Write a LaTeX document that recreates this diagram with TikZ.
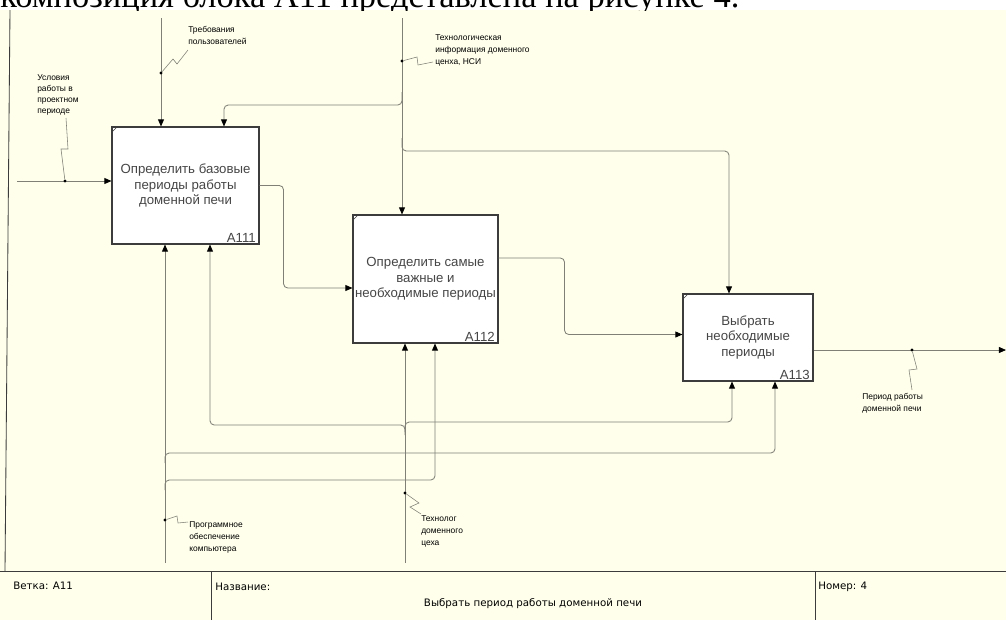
\documentclass[tikz,border=0pt]{standalone}
\usepackage{fontspec}
\setmainfont{Liberation Sans}
\newfontfamily\serifrm{Liberation Serif}
\newfontfamily\tahoma{DejaVu Sans}
\usepackage{tikz}
\usetikzlibrary{arrows.meta, positioning, calc}
\definecolor{paper}{RGB}{255,255,236}
\definecolor{linegray}{RGB}{128,128,118}
\definecolor{boxline}{RGB}{60,60,60}
\definecolor{boxtext}{RGB}{70,70,70}

\begin{document}
\begin{tikzpicture}[
  x=0.025cm, y=-0.025cm,
  func/.style={rectangle, draw=boxline, fill=white, line width=0.75pt,
               inner sep=0pt, align=center, text=boxtext,
               font=\fontsize{9.4}{11}\selectfont},
  num/.style={anchor=south east, inner xsep=2.5pt, inner ysep=1pt, text=boxtext,
              font=\fontsize{9.4}{9.4}\selectfont},
  lbl/.style={anchor=north west, inner sep=0pt, align=left,
              font=\fontsize{6}{8.8}\selectfont},
  arr/.style={draw=linegray, line width=0.6pt, rounded corners=3pt,
              -{Triangle[length=5pt, width=4.2pt, color=black]}},
  lead/.style={draw=linegray, line width=0.4pt},
  dot/.style={circle, fill=black, inner sep=0pt, minimum size=2.2pt},
  cell/.style={anchor=base west, inner sep=0pt, font=\tahoma\fontsize{7.3}{8}\selectfont}
]
\useasboundingbox (0,0) rectangle (1006,620);
\fill[white] (0,0) rectangle (1006,10);
\fill[paper] (0,10) rectangle (1006,620);
\begin{scope}
  \clip (0,0) rectangle (1006,10);
  \node[anchor=base west, inner sep=0pt, font=\serifrm\fontsize{24.5}{24.5}\selectfont] (cut) at (0,7)
    {композиция блока А11 представлена на рисунке 4.};
\end{scope}
\draw[boxline, line width=0.6pt] (10,10) -- (5,571);

% function boxes
\node[func, minimum width=3.675cm, minimum height=2.925cm] (a111) at (185.5,185.5)
  {Определить базовые\\периоды работы\\доменной печи};
\node[func, minimum width=3.625cm, minimum height=3.2cm] (a112) at (425.5,279)
  {Определить самые\\важные и\\необходимые периоды};
\node[func, minimum width=3.25cm, minimum height=2.175cm] (a113) at (748,337.5)
  {Выбрать\\необходимые\\периоды};
\node[num] at (a111.south east) {A111};
\node[num] at (a112.south east) {A112};
\node[num] at (a113.south east) {A113};
\foreach \b in {a111,a112,a113}
  \draw[boxline, line width=0.4pt] ($(\b.north west)+(1,5)$) -- ($(\b.north west)+(5,1)$);

% input
\coordinate (inbeg) at (17,181);
\draw[arr] (inbeg) -- (inbeg -| a111.west);
% controls
\coordinate (c1top) at (161,18);
\draw[arr] (c1top) -- (c1top |- a111.north);
\coordinate (c2top) at (402,18);
\draw[arr] (c2top) -- (c2top |- a112.north);
\draw[arr] (402,92) -- (402,105) -- (224,105) -- (224,105 |- a111.north);
\draw[arr] (402,138) -- (402,151) -- (729,151) -- (729,151 |- a113.north);
% outputs
\draw[arr] (a111.east) -- ++(24,0) |- ($(a112.west)+(0,9)$);
\draw[arr] ($(a112.east)+(0,-21)$) -- ++(66,0) |- ($(a113.west)+(0,-3)$);
\coordinate (outend) at (1006,350);
\draw[arr] (outend -| a113.east) -- (outend);
% mechanisms
\coordinate (m1bot) at (165,563);
\draw[arr] (m1bot) -- (m1bot |- a111.south);
\draw[arr] (165,490) -- (165,480) -- (435,480) -- (435,480 |- a112.south);
\draw[arr] (165,463) -- (165,453) -- (775,453) -- (775,453 |- a113.south);
\coordinate (m2bot) at (405,563);
\draw[arr] (m2bot) -- (m2bot |- a112.south);
\draw[arr] (405,435) -- (405,425) -- (210,425) -- (210,425 |- a111.south);
\draw[arr] (405,432) -- (405,422) -- (732,422) -- (732,422 |- a113.south);

% arrow labels
\node[lbl, font=\fontsize{6}{8}\selectfont] (lusl) at (37,74) {Условия\\работы в\\проектном\\периоде};
\node[lbl] (ltreb) at (188,26) {Требования\\пользователей};
\node[lbl] (ltech) at (435,34) {Технологическая\\информация доменного\\ценха, НСИ};
\node[lbl] (lper) at (862,393) {Период работы\\доменной печи};
\node[lbl] (lprog) at (189,521) {Программное\\обеспечение\\компьютера};
\node[lbl] (ltexn) at (421,515) {Технолог\\доменного\\цеха};

\node[dot] (d1) at (65,181) {};
\draw[lead] (d1) -- (61,149) -- (68,149) -- (66,118);
\node[dot] (d2) at (161,73) {};
\draw[lead] (d2) -- (173,59) -- (177,64) -- (188,50);
\node[dot] (d3) at (402,61) {};
\draw[lead] (d3) -- (417,57) -- (418,65) -- (433,62);
\node[dot] (d4) at (912,350) {};
\draw[lead] (d4) -- (917,369) -- (909,370) -- (912,390);
\node[dot] (d5) at (165,520) {};
\draw[lead] (d5) -- (177,516) -- (178,523) -- (188,522);
\node[dot] (d6) at (405,493) {};
\draw[lead] (d6) -- (419,503) -- (410,507) -- (421,514);

% title block
\draw[boxline, line width=0.6pt] (0,571) -- (1006,571);
\draw[boxline, line width=0.6pt] (211,571) -- (211,620);
\draw[boxline, line width=0.6pt] (815,571) -- (815,620);
\node[cell] (vetka) at (13,589) {Ветка: A11};
\node[cell] (nazv) at (215,590) {Название:};
\node[cell] (nomer) at (818,589) {Номер: 4};
\node[cell, anchor=base] (title) at (533,606) {Выбрать период работы доменной печи};
\end{tikzpicture}
\end{document}
